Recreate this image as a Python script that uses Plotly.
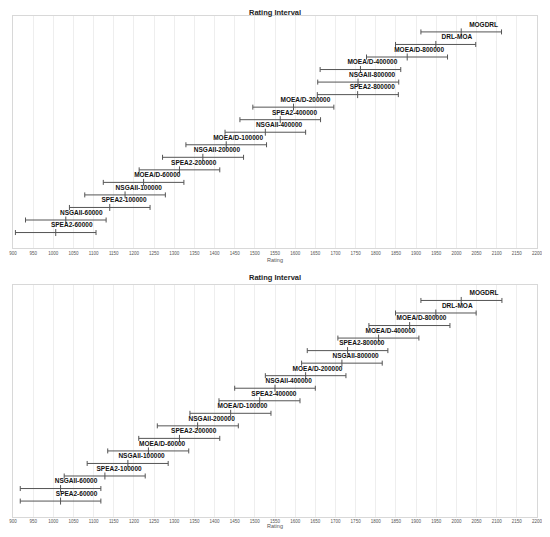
import plotly.graph_objects as go
from plotly.subplots import make_subplots

# top panel (bottom row first)
top_names = ['SPEA2-60000', 'NSGAII-60000', 'SPEA2-100000', 'NSGAII-100000',
             'MOEA/D-60000', 'SPEA2-200000', 'NSGAII-200000', 'MOEA/D-100000',
             'NSGAII-400000', 'SPEA2-400000', 'MOEA/D-200000', 'SPEA2-800000',
             'NSGAII-800000', 'MOEA/D-400000', 'MOEA/D-800000', 'DRL-MOA', 'MOGDRL']
top_low = [906, 931, 1040, 1078, 1124, 1213, 1271, 1329, 1426, 1463, 1495,
           1655, 1656, 1662, 1777, 1849, 1912]
top_mean = [1006, 1031, 1140, 1178, 1224, 1313, 1371, 1429, 1526, 1563, 1596,
            1755, 1756, 1762, 1878, 1949, 2012]
top_high = [1106, 1131, 1240, 1278, 1324, 1413, 1472, 1529, 1626, 1663, 1696,
            1856, 1857, 1862, 1978, 2048, 2112]

# bottom panel (bottom row first)
bot_names = ['SPEA2-60000', 'NSGAII-60000', 'SPEA2-100000', 'NSGAII-100000',
             'MOEA/D-60000', 'SPEA2-200000', 'NSGAII-200000', 'MOEA/D-100000',
             'SPEA2-400000', 'NSGAII-400000', 'MOEA/D-200000', 'NSGAII-800000',
             'SPEA2-800000', 'MOEA/D-400000', 'MOEA/D-800000', 'DRL-MOA', 'MOGDRL']
bot_low = [918, 918, 1027, 1084, 1135, 1212, 1258, 1339, 1411, 1450, 1526,
           1616, 1630, 1706, 1783, 1849, 1912]
bot_mean = [1018, 1018, 1128, 1185, 1236, 1313, 1358, 1440, 1512, 1550, 1626,
            1716, 1730, 1807, 1884, 1949, 2012]
bot_high = [1118, 1118, 1228, 1285, 1336, 1413, 1459, 1540, 1612, 1650, 1726,
            1816, 1830, 1907, 1984, 2049, 2113]

x_ticks = list(range(900, 2201, 50))

bar_col = '#555555'
font_fam = 'Arial, Liberation Sans, sans-serif'
label_font = dict(family=font_fam, size=6.5, color='#111111', weight='bold')

fig = make_subplots(rows=2, cols=1, vertical_spacing=0.072)

panels = [(top_names, top_low, top_mean, top_high),
          (bot_names, bot_low, bot_mean, bot_high)]

for r, (names, low, mean, high) in enumerate(panels, start=1):
    ys = list(range(len(names)))
    # interval with end caps and a tick at the mean
    fig.add_trace(go.Scatter(
        x=mean, y=ys, mode='markers',
        marker=dict(symbol='line-ns-open', size=5,
                    line=dict(width=1, color=bar_col), color=bar_col),
        error_x=dict(type='data', symmetric=False,
                     array=[h - m for h, m in zip(high, mean)],
                     arrayminus=[m - l for m, l in zip(mean, low)],
                     width=2.5, thickness=1, color=bar_col),
        showlegend=False, hoverinfo='skip'), row=r, col=1)
    # name above the right end of each interval
    fig.add_trace(go.Scatter(
        x=high, y=ys, mode='markers+text', text=names,
        marker=dict(size=4, color='rgba(0,0,0,0)',
                    line=dict(width=0, color='rgba(0,0,0,0)')),
        textposition='top left', textfont=label_font,
        showlegend=False, hoverinfo='skip'), row=r, col=1)

    fig.update_xaxes(range=[900, 2200], tickvals=x_ticks,
                     tickfont=dict(size=4.5, color='#555555', family=font_fam),
                     ticklabeloverflow='allow', automargin=False,
                     showgrid=True, gridcolor='#eeeeee', gridwidth=1,
                     showline=True, linecolor='#d8d8d8', mirror=True,
                     zeroline=False, ticks='', ticklen=0,
                     title=dict(text='Rating', standoff=3,
                                font=dict(size=5.5, color='#555555', family=font_fam)),
                     row=r, col=1)
    fig.update_yaxes(range=[-1.27, len(names) - 1 + 1.27], showticklabels=False,
                     showgrid=False, zeroline=False, automargin=False,
                     showline=True, linecolor='#d8d8d8', mirror=True,
                     row=r, col=1)

title_font = dict(size=7.5, color='#222222', family=font_fam)
fig.update_layout(
    width=534, height=521,
    margin=dict(l=5, r=5, t=8, b=12, autoexpand=False),
    plot_bgcolor='white', paper_bgcolor='white',
    annotations=[
        dict(text='<b>Rating Interval</b>', xref='paper', yref='paper',
             x=0.5, y=1.0, yshift=4, xanchor='center', yanchor='middle',
             showarrow=False, font=title_font),
        dict(text='<b>Rating Interval</b>', xref='paper', yref='paper',
             x=0.5, y=0.463, yshift=7.5, xanchor='center', yanchor='middle',
             showarrow=False, font=title_font),
    ],
)

fig.write_html('out.html')
